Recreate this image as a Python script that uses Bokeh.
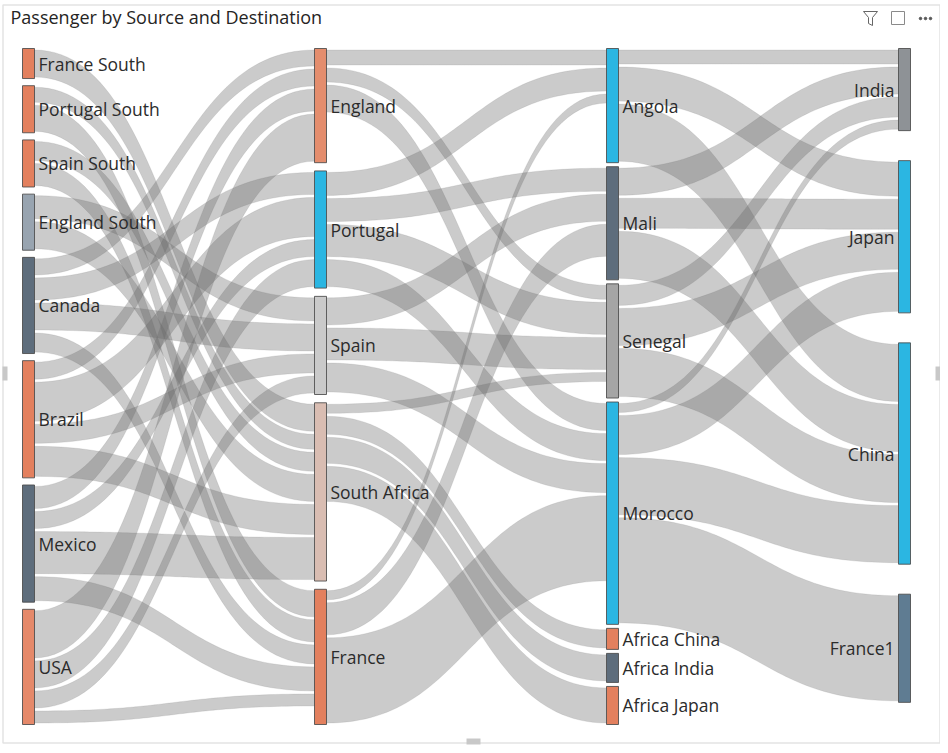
import numpy as np
from bokeh.plotting import figure
from bokeh.models import ColumnDataSource, Range1d
from bokeh.embed import file_html
from bokeh.resources import INLINE
from bokeh.core.properties import value

# ---------------- data ----------------
chart_title = "Passenger by Source and Destination"

sources_col = ["France South", "Portugal South", "Spain South", "England South",
               "Canada", "Brazil", "Mexico", "USA"]
hubs_col = ["England", "Portugal", "Spain", "South Africa", "France"]
africa_col = ["Angola", "Mali", "Senegal", "Morocco",
              "Africa China", "Africa India", "Africa Japan"]
dest_col = ["India", "Japan", "China", "France1"]

# stage 1: source -> hub
s1_from = ["France South", "Portugal South", "Portugal South", "Spain South", "Spain South",
           "England South", "England South", "Canada", "Canada", "Canada", "Canada",
           "Brazil", "Brazil", "Brazil", "Brazil", "Mexico", "Mexico", "Mexico", "Mexico",
           "USA", "USA", "USA", "USA"]
s1_to = ["South Africa", "South Africa", "France", "South Africa", "France",
         "Spain", "South Africa", "England", "Portugal", "Spain", "France",
         "England", "Portugal", "Spain", "South Africa", "England", "Portugal", "South Africa", "France",
         "England", "Portugal", "Spain", "France"]
s1_pax = [30, 18, 29, 22, 25,
          26, 30, 19, 25, 30, 22,
          20, 42, 22, 33, 25, 20, 45, 27,
          50, 30, 20, 15]

# stage 2: hub -> africa
s2_from = ["England", "England", "England", "Portugal", "Portugal", "Portugal", "Portugal",
           "Spain", "Spain", "Spain", "South Africa", "South Africa", "South Africa", "South Africa",
           "France", "France", "France"]
s2_to = ["Angola", "Senegal", "Morocco", "Angola", "Mali", "Senegal", "Morocco",
         "Mali", "Senegal", "Morocco", "Senegal", "Africa China", "Africa India", "Africa Japan",
         "Angola", "Mali", "Morocco"]
s2_pax = [18, 17, 30, 26, 26, 35, 30,
          30, 35, 32, 12, 21, 29, 38,
          12, 35, 88]

# stage 3: africa -> destination
s3_from = ["Angola", "Angola", "Angola", "Mali", "Mali", "Mali",
           "Senegal", "Senegal", "Senegal", "Morocco", "Morocco", "Morocco", "Morocco"]
s3_to = ["India", "Japan", "China", "India", "Japan", "China",
         "India", "Japan", "China", "India", "Japan", "China", "France1"]
s3_pax = [17, 37, 60, 30, 33, 50,
          23, 40, 51, 12, 42, 60, 108]

# ---------------- styles ----------------
SALMON = "#E3805E"
CYAN = "#2BB6E2"
SLATE = "#5E6D7C"
node_fill = {
    "France South": SALMON, "Portugal South": SALMON, "Spain South": SALMON,
    "England South": "#98A4B0", "Canada": SLATE, "Brazil": SALMON, "Mexico": SLATE,
    "USA": "#E5896A",
    "England": "#E48D6D", "Portugal": CYAN, "Spain": "#CACACA", "South Africa": "#D9BDB2",
    "France": SALMON,
    "Angola": CYAN, "Mali": SLATE, "Senegal": "#A5A5A5", "Morocco": CYAN,
    "Africa China": SALMON, "Africa India": SLATE, "Africa Japan": SALMON,
    "India": "#8E9296", "Japan": CYAN, "China": CYAN, "France1": "#5F7C92",
}
FONT = "Open Sans"
TOP, BOTTOM = 48.0, 724.0
COL_LEFT0, COL_STEP, NODE_W = 22.0, 292.0, 12.0
MIN_GAP, MAX_GAP = 4.0, 30.0
PAD = 1.5

# ---------------- layout ----------------
columns = [sources_col, hubs_col, africa_col, dest_col]
links = (list(zip(s1_from, s1_to, s1_pax)) + list(zip(s2_from, s2_to, s2_pax))
         + list(zip(s3_from, s3_to, s3_pax)))

in_sum, out_sum = {}, {}
for a, b, v in links:
    out_sum[a] = out_sum.get(a, 0) + v
    in_sum[b] = in_sum.get(b, 0) + v
node_val = {n: max(in_sum.get(n, 0), out_sum.get(n, 0)) for col in columns for n in col}

H = BOTTOM - TOP
k = min((H - (len(c) - 1) * MIN_GAP) / sum(node_val[n] for n in c) for c in columns)

node_x, node_y0, node_y1, node_col = {}, {}, {}, {}
for ci, col in enumerate(columns):
    tot = sum(node_val[n] for n in col) * k
    gap = min(MAX_GAP, (H - tot) / (len(col) - 1))
    y = TOP
    for n in col:
        node_x[n] = COL_LEFT0 + ci * COL_STEP
        node_y0[n] = y
        node_y1[n] = y + node_val[n] * k
        node_col[n] = ci
        y = node_y1[n] + gap

# link slots
out_links = {}
in_links = {}
for i, (a, b, v) in enumerate(links):
    out_links.setdefault(a, []).append(i)
    in_links.setdefault(b, []).append(i)
src_off, dst_off = {}, {}
for n, lst in out_links.items():
    y = node_y0[n]
    for i in sorted(lst, key=lambda j: node_y0[links[j][1]]):
        src_off[i] = y
        y += links[i][2] * k
for n, lst in in_links.items():
    y = node_y0[n]
    for i in sorted(lst, key=lambda j: node_y0[links[j][0]]):
        dst_off[i] = y
        y += links[i][2] * k

t = np.linspace(0, 1, 60)
xs, ys = [], []
for i, (a, b, v) in enumerate(links):
    x0 = node_x[a] + NODE_W
    x1 = node_x[b]
    xm = (x0 + x1) / 2
    bx = (1 - t) ** 3 * x0 + 3 * (1 - t) ** 2 * t * xm + 3 * (1 - t) * t ** 2 * xm + t ** 3 * x1
    s = 3 * t ** 2 - 2 * t ** 3
    w = v * k
    ya0, ya1 = src_off[i] + PAD, dst_off[i] + PAD
    yb0, yb1 = src_off[i] + w - PAD, dst_off[i] + w - PAD
    top = ya0 + (ya1 - ya0) * s
    bot = yb0 + (yb1 - yb0) * s
    xs.append(list(bx) + list(bx[::-1]))
    ys.append(list(top) + list(bot[::-1]))

# ---------------- figure ----------------
p = figure(width=940, height=745, output_backend="svg", toolbar_location=None,
           x_range=Range1d(0, 940), y_range=Range1d(745, 0),
           x_axis_type=None, y_axis_type=None, min_border=0)
p.outline_line_color = None
p.grid.visible = False
p.background_fill_color = "white"
p.border_fill_color = "white"

# frame of the visual, with its resize handles
p.quad(left=[2.5], right=[939.5], top=[4.5], bottom=[742.5],
       fill_color=None, line_color="#E3E3E3", line_width=1.5)
p.quad(left=[2, 935, 466], right=[7, 940, 480], top=[366, 366, 738], bottom=[380, 380, 744],
       fill_color="#C8C8C8", line_color=None)

# links
p.patches(xs="xs", ys="ys", source=ColumnDataSource(dict(xs=xs, ys=ys)),
          fill_color="#666666", fill_alpha=0.34, line_color="#777777",
          line_alpha=0.25, line_width=0.6)

# nodes
names = [n for col in columns for n in col]
nsrc = ColumnDataSource(dict(
    left=[node_x[n] for n in names],
    right=[node_x[n] + NODE_W for n in names],
    top=[node_y0[n] for n in names],
    bottom=[node_y1[n] for n in names],
    color=[node_fill[n] for n in names],
))
p.quad(left="left", right="right", top="top", bottom="bottom", source=nsrc,
       fill_color="color", line_color="#4a4a4a", line_width=1, line_alpha=0.85)

# labels
lx, ly, lt, la = [], [], [], []
for n in names:
    cy = (node_y0[n] + node_y1[n]) / 2
    if node_col[n] < 3:
        lx.append(node_x[n] + NODE_W + 4)
        la.append("left")
    else:
        lx.append(node_x[n] - 4)
        la.append("right")
    ly.append(cy)
    lt.append(n)
p.text(x="x", y="y", text="text", text_align="align",
       source=ColumnDataSource(dict(x=lx, y=ly, text=lt, align=la)),
       text_baseline="middle", text_font=value(FONT), text_font_size="17.5px",
       text_color="#2B2B2B")

# title
p.text(x=[10], y=[16], text=[chart_title], text_baseline="middle",
       text_font=value(FONT), text_font_size="18px", text_color="#252423")

# header icons (filter, focus, more)
p.patch(x=[863, 877, 872, 872, 868, 868, 863], y=[11, 11, 17, 25, 23, 17, 11],
        fill_color=None, line_color="#666666", line_width=1)
p.quad(left=[891], right=[904], top=[11], bottom=[24], fill_color=None,
       line_color="#8a8a8a", line_width=1)
p.scatter(x=[920, 925, 930], y=[18, 18, 18], size=2.5, color="#555555")

open("out.html", "w").write(file_html(p, INLINE))
